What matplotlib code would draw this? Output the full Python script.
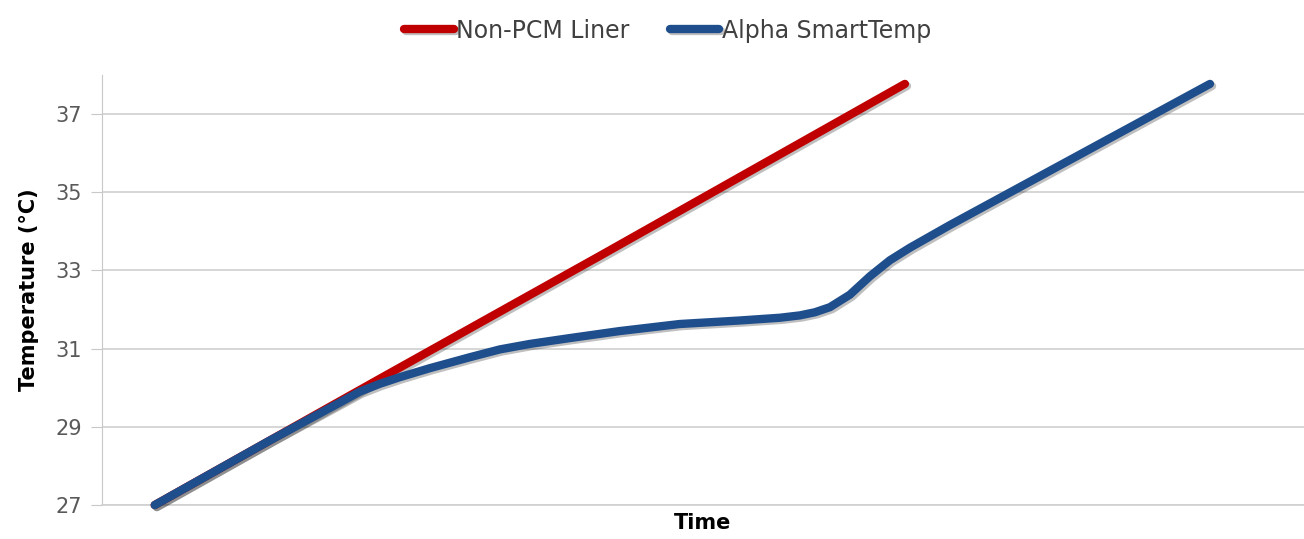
import matplotlib.pyplot as plt
import matplotlib.patheffects as pe

# time in arbitrary units (no tick labels on the x axis)
time_red = [0.53, 2.78, 5.0, 8.03]
temp_red = [27.0, 30.23, 33.4, 37.77]

time_blue = [0.53, 1.68, 2.38, 2.58, 2.78, 2.98, 3.28, 3.68, 3.98, 4.28, 4.68, 5.18,
             5.78, 6.38, 6.78, 6.98, 7.13, 7.28, 7.48, 7.68, 7.88, 8.08, 8.48, 11.08]
temp_blue = [27.0, 28.65, 29.62, 29.9, 30.1, 30.27, 30.5, 30.78, 30.98, 31.12, 31.27, 31.45,
             31.63, 31.72, 31.79, 31.85, 31.93, 32.06, 32.38, 32.85, 33.26, 33.58, 34.16, 37.77]

red = '#c00000'
blue = '#1f4e8c'
shadow = [pe.SimpleLineShadow(offset=(1.5, -1.5), alpha=0.25), pe.Normal()]

fig = plt.figure(figsize=(13.04, 5.39), dpi=100)
ax = fig.add_axes([0.078, 0.063, 0.922, 0.798])

ax.plot(time_red, temp_red, color=red, lw=6, solid_capstyle='round',
        solid_joinstyle='round', label='Non-PCM Liner', path_effects=shadow, zorder=3)
ax.plot(time_blue, temp_blue, color=blue, lw=6, solid_capstyle='round',
        solid_joinstyle='round', label='Alpha SmartTemp', path_effects=shadow, zorder=4)

ax.set_xlim(0, 12.02)
ax.set_ylim(27, 38)
ax.set_yticks([27, 29, 31, 33, 35, 37])
ax.set_xticks([])
ax.grid(axis='y', color='#d0d0d0', lw=1.2)
ax.set_axisbelow(True)
for s in ['top', 'right']:
    ax.spines[s].set_visible(False)
ax.spines['bottom'].set_color('#d0d0d0')
ax.spines['bottom'].set_linewidth(1.2)
ax.spines['left'].set_color('#c8c8c8')
ax.tick_params(axis='y', length=8, color='#c8c8c8', labelsize=15, labelcolor='#595959', pad=6)
for l in ax.lines:
    l.set_clip_on(False)

ax.set_xlabel('Time', fontsize=15, fontweight='bold', labelpad=6)
ax.set_ylabel('Temperature (°C)', fontsize=15, fontweight='bold', labelpad=12)

fig.legend(loc='upper center', bbox_to_anchor=(0.512, 1.005), ncol=2, frameon=False,
           fontsize=17, handlelength=2.1, handletextpad=0.1, columnspacing=1.7,
           labelcolor='#404040')

fig.savefig('out.png', dpi=100)
